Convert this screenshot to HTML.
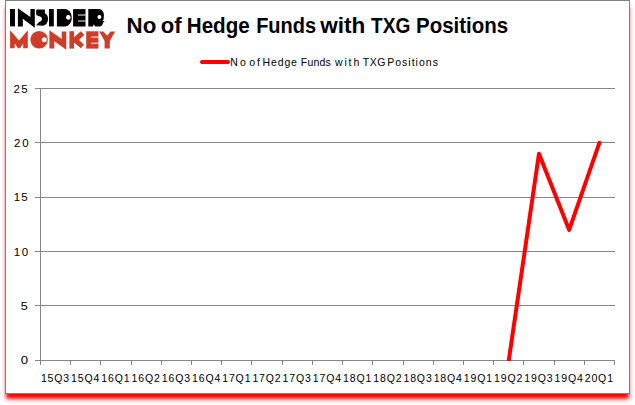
<!DOCTYPE html>
<html><head><meta charset="utf-8">
<style>
html,body{margin:0;padding:0;background:#fff;width:635px;height:405px;overflow:hidden;}
#frame{position:absolute;left:5px;top:0;width:623px;height:392px;border:1px solid #808080;background:#fff;box-shadow:0 6px 4px -1px #ff0000;}
svg{position:absolute;left:0;top:0;}
text{font-family:"Liberation Sans",sans-serif;}
</style></head><body>
<div id="frame"></div>
<svg width="635" height="405" viewBox="0 0 635 405">
  <!-- logo -->
  <g id="logo-insider" fill="#000">
    <rect x="10" y="9" width="5" height="17.4"/>
    <polygon points="17.9,8.2 30.4,17.1 30.4,9 34.8,9 34.8,27.7 22.8,18.8 22.8,26.4 17.9,26.4"/>
    <path d="M37.6,9.6 L44.9,9.6 L44.9,13.2 C46.9,14.6 48,16.3 48,18.6 C48,22.8 45.8,25.7 42.8,25.7 L36.1,25.2 L39.2,22 C40.9,21.3 42,20.2 42,18.9 C42,17.3 40.8,16.6 39,16.2 C37.2,15.8 36.1,15 36.1,13.5 L36.1,11.3 C36.1,10.3 36.6,9.6 37.6,9.6 Z"/>
    <rect x="49" y="9" width="4.8" height="17.4"/>
    <path d="M56.9,9 H65.2 A6.6,8.7 0 0 1 65.2,26.4 H56.9 Z"/>
    <path d="M73.1,9.1 H85.5 V26.5 H73.1 Z"/>
    <path d="M88.3,9.1 H98.5 C101.8,9.1 103.9,11.8 103.9,15 L103.6,19.6 L102.4,21 L104.8,20.9 L103.2,22.4 C102.5,24.8 101.6,26.5 99.5,26.5 H95.3 L93.8,24.3 L93,26.4 H88.3 Z"/>
  </g>
  <g fill="#fff">
    <circle cx="68.3" cy="17.4" r="2.3"/>
    <circle cx="99.4" cy="17.1" r="2"/>
    <rect x="78" y="14.4" width="7.6" height="1.2" opacity="0.8"/>
    <rect x="78" y="20.4" width="7.6" height="1.2" opacity="0.8"/>
  </g>
  <g id="logo-monkey" fill="#cf3d28">
    <polygon points="10.1,30.2 19,40.5 27.8,30.2 27.8,48.3 23.2,48.3 23.2,43.6 20,48.3 18,48.3 14.7,43.6 14.7,48.3 10.1,48.3"/>
    <circle cx="39.1" cy="39.8" r="8.8"/>
    <polygon points="49.4,30.2 61.7,38.96 61.7,31.4 66.3,31.4 66.3,49.7 54.3,41.2 54.3,48.4 49.4,48.4"/>
    <rect x="69.4" y="31.2" width="4.6" height="17.4"/>
    <polygon points="74,37.2 80.8,31.2 84.3,34.7 79.1,40.1 84,44.8 80.8,48.3 74,42.6"/>
    <rect x="86.2" y="31.3" width="12.2" height="17.3"/>
    <polygon points="99.2,31.4 103.5,31.4 107,35.8 110.6,31.4 115.2,31.4 109.8,41 109.8,48.4 104.6,48.4 104.6,41"/>
  </g>
  <g fill="#fff">
    <circle cx="44.3" cy="39.7" r="2.5"/>
    <rect x="91.3" y="36.5" width="7.2" height="1.3" opacity="0.75"/>
    <rect x="91.3" y="42.6" width="7.2" height="1.3" opacity="0.75"/>
  </g>
  <!-- title -->
  <g font-size="22" font-weight="bold" fill="#000" lengthAdjust="spacingAndGlyphs">
  <text x="126.58" y="33" textLength="29.76" lengthAdjust="spacingAndGlyphs">No</text>
  <text x="160.80" y="33" textLength="20.87" lengthAdjust="spacingAndGlyphs">of</text>
  <text x="186.79" y="33" textLength="62.99" lengthAdjust="spacingAndGlyphs">Hedge</text>
  <text x="256.14" y="33" textLength="59.97" lengthAdjust="spacingAndGlyphs">Funds</text>
  <text x="320.30" y="33" textLength="45.02" lengthAdjust="spacingAndGlyphs">with</text>
  <text x="371.03" y="33" textLength="39.21" lengthAdjust="spacingAndGlyphs">TXG</text>
  <text x="416.00" y="33" textLength="92.14" lengthAdjust="spacingAndGlyphs">Positions</text>
  </g>
  <!-- legend -->
  <line x1="202" y1="62" x2="228" y2="62" stroke="#ff0000" stroke-width="4" stroke-linecap="round"/>
  <g id="legend" font-size="10.5" fill="#000">
  <text x="230.20" y="65.5" textLength="15.52" lengthAdjust="spacing">No</text>
  <text x="249.30" y="65.5" textLength="10.66" lengthAdjust="spacing">of</text>
  <text x="262.60" y="65.5" textLength="34.34" lengthAdjust="spacing">Hedge</text>
  <text x="300.80" y="65.5" textLength="29.88" lengthAdjust="spacing">Funds</text>
  <text x="334.90" y="65.5" textLength="24.37" lengthAdjust="spacing">with</text>
  <text x="362.70" y="65.5" textLength="22.69" lengthAdjust="spacing">TXG</text>
  <text x="387.20" y="65.5" textLength="50.71" lengthAdjust="spacing">Positions</text>
  </g>
  <!-- gridlines -->
  <g stroke="#868686" stroke-width="1" shape-rendering="crispEdges">
    <line x1="35" y1="88.5" x2="615" y2="88.5"/>
    <line x1="35" y1="142.5" x2="615" y2="142.5"/>
    <line x1="35" y1="197.5" x2="615" y2="197.5"/>
    <line x1="35" y1="251.5" x2="615" y2="251.5"/>
    <line x1="35" y1="305.5" x2="615" y2="305.5"/>
    <line x1="35" y1="360.5" x2="615" y2="360.5"/>
    <line x1="40.5" y1="88" x2="40.5" y2="365"/>
  </g>
  <g id="xticks" stroke="#868686" stroke-width="1" shape-rendering="crispEdges"><line x1="70.5" y1="360" x2="70.5" y2="365"/><line x1="100.5" y1="360" x2="100.5" y2="365"/><line x1="131.5" y1="360" x2="131.5" y2="365"/><line x1="161.5" y1="360" x2="161.5" y2="365"/><line x1="191.5" y1="360" x2="191.5" y2="365"/><line x1="221.5" y1="360" x2="221.5" y2="365"/><line x1="251.5" y1="360" x2="251.5" y2="365"/><line x1="282.5" y1="360" x2="282.5" y2="365"/><line x1="312.5" y1="360" x2="312.5" y2="365"/><line x1="342.5" y1="360" x2="342.5" y2="365"/><line x1="372.5" y1="360" x2="372.5" y2="365"/><line x1="403.5" y1="360" x2="403.5" y2="365"/><line x1="433.5" y1="360" x2="433.5" y2="365"/><line x1="463.5" y1="360" x2="463.5" y2="365"/><line x1="493.5" y1="360" x2="493.5" y2="365"/><line x1="523.5" y1="360" x2="523.5" y2="365"/><line x1="554.5" y1="360" x2="554.5" y2="365"/><line x1="584.5" y1="360" x2="584.5" y2="365"/><line x1="614.5" y1="360" x2="614.5" y2="365"/></g>
  <!-- y labels -->
  <g id="ylabels" font-size="11.5" fill="#000">
    <text x="13.60" y="93" textLength="14.09" lengthAdjust="spacing">25</text>
    <text x="13.90" y="147" textLength="14.69" lengthAdjust="spacing">20</text>
    <text x="13.80" y="201" textLength="13.89" lengthAdjust="spacing">15</text>
    <text x="13.80" y="255.6" textLength="14.39" lengthAdjust="spacing">10</text>
    <text x="20.85" y="309.6" textLength="6.99" lengthAdjust="spacingAndGlyphs">5</text>
    <text x="20.83" y="363.6" textLength="7.34" lengthAdjust="spacingAndGlyphs">0</text>
  </g>
  <g id="xlabels" font-size="10.5" fill="#000"><text x="40.91" y="381.8" textLength="28.3" lengthAdjust="spacing">15Q3</text><text x="71.12" y="381.8" textLength="28.3" lengthAdjust="spacing">15Q4</text><text x="101.33" y="381.8" textLength="28.3" lengthAdjust="spacing">16Q1</text><text x="131.54" y="381.8" textLength="28.3" lengthAdjust="spacing">16Q2</text><text x="161.75" y="381.8" textLength="28.3" lengthAdjust="spacing">16Q3</text><text x="191.96" y="381.8" textLength="28.3" lengthAdjust="spacing">16Q4</text><text x="222.17" y="381.8" textLength="28.3" lengthAdjust="spacing">17Q1</text><text x="252.38" y="381.8" textLength="28.3" lengthAdjust="spacing">17Q2</text><text x="282.59" y="381.8" textLength="28.3" lengthAdjust="spacing">17Q3</text><text x="312.80" y="381.8" textLength="28.3" lengthAdjust="spacing">17Q4</text><text x="343.01" y="381.8" textLength="28.3" lengthAdjust="spacing">18Q1</text><text x="373.22" y="381.8" textLength="28.3" lengthAdjust="spacing">18Q2</text><text x="403.43" y="381.8" textLength="28.3" lengthAdjust="spacing">18Q3</text><text x="433.64" y="381.8" textLength="28.3" lengthAdjust="spacing">18Q4</text><text x="463.85" y="381.8" textLength="28.3" lengthAdjust="spacing">19Q1</text><text x="494.06" y="381.8" textLength="28.3" lengthAdjust="spacing">19Q2</text><text x="524.27" y="381.8" textLength="28.3" lengthAdjust="spacing">19Q3</text><text x="554.48" y="381.8" textLength="28.3" lengthAdjust="spacing">19Q4</text><text x="584.69" y="381.8" textLength="28.3" lengthAdjust="spacing">20Q1</text></g>
  <!-- data line -->
  <svg x="40" y="88" width="575" height="273" overflow="hidden">
    <polyline points="468.76,272.50 498.97,65.78 529.18,141.94 559.39,54.90" fill="none" stroke="#ff0000" stroke-width="4" stroke-linejoin="round" stroke-linecap="round"/>
  </svg>
</svg>
</body></html>
